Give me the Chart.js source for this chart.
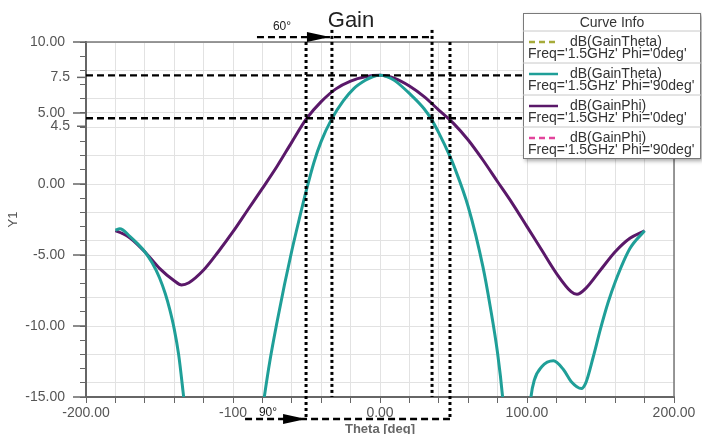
<!DOCTYPE html>
<html>
<head>
<meta charset="utf-8">
<script src="https://cdn.jsdelivr.net/npm/chart.js@4/dist/chart.umd.min.js"></script>
<style>
  html, body { margin: 0; padding: 0; background: #fff; }
</style>
</head>
<body>
<canvas id="gainChart" width="702" height="434"></canvas>
<script>
// dB(GainTheta), Phi = 90deg  (theta in deg, gain in dB)
const thetaTeal = [-180, -177, -170, -165, -160, -155, -150, -146, -143, -140, -137, -134, -130, -120, -106, -88,
  -78.7, -74.8, -70, -65, -60, -55, -50, -45, -40, -33, -25, -18, -10, -5, 0, 5, 10, 20, 30, 35, 40, 47.6, 50, 60,
  70, 75, 80, 83.4, 88, 93, 98, 102.7, 105, 110, 118, 125, 130, 137, 140, 145, 150, 155, 160, 170, 180];
const gainTeal = [-3.25, -3.15, -3.7, -4.2, -4.77, -5.55, -6.6, -7.75, -8.85, -10.2, -12.0, -14.6, -18.4, -25, -30, -22,
  -15, -12.4, -9.7, -7.1, -4.7, -2.5, -0.4, 1.5, 3.0, 4.55, 5.85, 6.7, 7.3, 7.55, 7.65, 7.55, 7.28, 6.38, 5.3, 4.55, 3.6, 1.95, 1.35, -1.6,
  -5.82, -8.64, -11.92, -15, -21, -24, -21, -15, -13.8, -12.87, -12.45, -13.1, -13.9, -14.4, -14.0, -12.2, -10.2, -8.4, -6.9, -4.55, -3.29];

// dB(GainPhi), Phi = 0deg
const thetaPurple = [-180, -175, -170, -160, -150, -140, -135, -130, -120, -110, -100, -90, -80, -70, -60, -50,
  -40, -30, -20, -10, 0, 10, 20, 30, 40, 50, 60, 70, 80, 90, 100, 110, 120, 130, 134, 140, 150, 160, 170, 180];
const gainPurple = [-3.29, -3.5, -3.8, -4.77, -5.94, -6.81, -7.11, -6.95, -6.06, -4.77, -3.36, -1.83, -0.31, 1.25, 2.95, 4.6,
  5.8, 6.7, 7.25, 7.55, 7.65, 7.44, 6.9, 6.15, 5.21, 4.27, 3.1, 1.69, 0.16, -1.36, -3.0, -4.65, -6.29, -7.58, -7.77, -7.35, -6.06, -4.77, -3.82, -3.29];

const curveNames = ['dB(GainTheta)', 'dB(GainTheta)', 'dB(GainPhi)', 'dB(GainPhi)'];
const curveFreqs = ["Freq='1.5GHz' Phi='0deg'", "Freq='1.5GHz' Phi='90deg'", "Freq='1.5GHz' Phi='0deg'", "Freq='1.5GHz' Phi='90deg'"];

const xTickValues = [-200, -100, 0, 100, 200];
const xTickLabels = ['-200.00', '-100', '0.00', '100.00', '200.00'];
const yTickValues = [-15, -10, -5, 0, 5, 10];
const yTickLabels = ['-15.00', '-10.00', '-5.00', '0.00', '5.00', '10.00'];

// hand-drawn marks on the figure (dB levels and beam edges in deg)
const levelValues = [7.65, 4.63];
const levelLabels = ['7.5', '4.5'];
const beam60 = [-32.7, 35.4];
const beam90 = [-50.3, 47.6];

const toPoints = (xs, ys) => xs.map((t, i) => ({ x: t, y: ys[i] }));

function dashLine(ctx, x1, y1, x2, y2, dash, w) {
  ctx.setLineDash(dash);
  ctx.lineWidth = w;
  ctx.beginPath();
  ctx.moveTo(x1, y1);
  ctx.lineTo(x2, y2);
  ctx.stroke();
}

function arrowHead(ctx, tipX, y) {
  ctx.setLineDash([]);
  ctx.beginPath();
  ctx.moveTo(tipX, y);
  ctx.lineTo(tipX - 23, y - 5);
  ctx.lineTo(tipX - 23, y + 5);
  ctx.closePath();
  ctx.fill();
}

const markup = {
  id: 'markup',
  afterDraw(chart) {
    const { ctx, chartArea: a } = chart;
    const px = v => chart.scales.x.getPixelForValue(v);
    const py = v => chart.scales.y.getPixelForValue(v);
    ctx.save();

    // top / right frame
    ctx.strokeStyle = '#777';
    dashLine(ctx, a.left, a.top, a.right, a.top, [], 1.5);
    dashLine(ctx, a.right, a.top, a.right, a.bottom, [], 1.5);

    // long ticks at labelled values
    ctx.strokeStyle = '#666';
    yTickValues.forEach(v => dashLine(ctx, a.left - 13, py(v), a.left, py(v), [], 1.5));

    // level lines and their labels
    ctx.fillStyle = '#555';
    ctx.font = '14px "Liberation Sans", Arial, sans-serif';
    ctx.textAlign = 'right';
    ctx.textBaseline = 'middle';
    levelValues.forEach((v, i) => {
      ctx.strokeStyle = '#000';
      dashLine(ctx, a.left, py(v), a.right, py(v), [7, 4], 2.3);
      const ly = py(v) + (i === 0 ? 2 : 8);
      ctx.fillText(levelLabels[i], a.left - 16, ly);
      ctx.strokeStyle = '#666';
      dashLine(ctx, a.left - 9, ly, a.left, ly, [], 1.5);
    });

    // beam edges
    ctx.strokeStyle = '#000';
    ctx.fillStyle = '#000';
    const topY = py(10.35), botY = py(-16.55);
    beam60.forEach(t => dashLine(ctx, px(t), py(10.85), px(t), a.bottom, [3, 3], 3));
    beam90.forEach(t => dashLine(ctx, px(t), a.top, px(t), botY, [3, 3], 3));
    dashLine(ctx, px(-83.7), topY, px(beam60[1]), topY, [7, 4], 2.3);
    arrowHead(ctx, px(beam60[0]) - 2, topY);
    dashLine(ctx, px(-91.8), botY, px(beam90[1]), botY, [7, 4], 2.3);
    arrowHead(ctx, px(beam90[0]), botY);

    ctx.font = '12px "Liberation Sans", Arial, sans-serif';
    ctx.textAlign = 'center';
    ctx.fillStyle = '#222';
    ctx.fillText('60°', px(-66.7), py(11.06));
    ctx.fillText('90°', px(-76.2), py(-16.13));

    // title
    ctx.font = '22px "Liberation Sans", Arial, sans-serif';
    ctx.fillStyle = '#222';
    ctx.fillText('Gain', 351, 21);

    // curve info box
    const bx = 523, by = 13, bw = 178, bh = 146;
    ctx.setLineDash([]);
    ctx.shadowColor = 'rgba(0,0,0,0.35)';
    ctx.shadowBlur = 4;
    ctx.shadowOffsetX = 2;
    ctx.shadowOffsetY = 2;
    ctx.fillStyle = '#fff';
    ctx.fillRect(bx, by, bw, bh);
    ctx.shadowColor = 'transparent';
    ctx.strokeStyle = '#7a7a7a';
    ctx.lineWidth = 1;
    ctx.strokeRect(bx + 0.5, by + 0.5, bw - 1, bh - 1);

    ctx.fillStyle = '#333';
    ctx.font = '14px "Liberation Sans", Arial, sans-serif';
    ctx.fillText('Curve Info', bx + bw / 2, by + 10);
    chart.data.datasets.forEach((ds, i) => {
      const top = by + 18 + 32 * i;
      ctx.strokeStyle = '#c8c8c8';
      dashLine(ctx, bx, top, bx + bw, top, [], 1);
      ctx.strokeStyle = ds.borderColor;
      dashLine(ctx, bx + 6, top + 11, bx + 35, top + 11, ds.borderDash || [], 2.5);
      ctx.fillStyle = '#333';
      ctx.textAlign = 'left';
      ctx.fillText(curveNames[i], bx + 47, top + 11);
      ctx.fillText(curveFreqs[i], bx + 5, top + 23);
    });
    ctx.restore();
  }
};

const gridColor = c => {
  if (!c.tick) return 'rgba(0,0,0,0)';
  const v = c.tick.value;
  return (v % 2 === 0 || v % 5 === 0) ? '#e2e2e2' : 'rgba(0,0,0,0)';
};

new Chart(document.getElementById('gainChart'), {
  type: 'line',
  data: {
    datasets: [
      { label: curveNames[0], data: [], borderColor: '#a6ab3a', borderDash: [6, 4], borderWidth: 2.5, pointRadius: 0 },
      { label: curveNames[1], data: toPoints(thetaTeal, gainTeal), borderColor: '#1f9f98', borderWidth: 3,
        pointRadius: 0, cubicInterpolationMode: 'monotone' },
      { label: curveNames[2], data: toPoints(thetaPurple, gainPurple), borderColor: '#5a1869', borderWidth: 3,
        pointRadius: 0, cubicInterpolationMode: 'monotone' },
      { label: curveNames[3], data: [], borderColor: '#e2449c', borderDash: [6, 4], borderWidth: 2.5, pointRadius: 0 }
    ]
  },
  options: {
    responsive: false,
    animation: false,
    layout: { padding: { left: 0, top: 42, right: 28, bottom: 0 } },
    plugins: { legend: { display: false }, title: { display: false }, tooltip: { enabled: false } },
    scales: {
      x: {
        type: 'linear', min: -200, max: 200,
        afterFit: s => { s.height = 37; },
        border: { color: '#666', width: 2 },
        grid: { color: '#e2e2e2', tickColor: '#666', tickLength: 6, lineWidth: 1 },
        ticks: {
          stepSize: 20, autoSkip: false, maxRotation: 0, padding: 2,
          color: '#555', font: { size: 14, family: '"Liberation Sans", Arial, sans-serif' },
          callback: v => { const i = xTickValues.indexOf(v); return i < 0 ? '' : xTickLabels[i]; }
        },
        title: { display: true, text: 'Theta [deg]', color: '#666', padding: { top: 0, bottom: -3 },
          font: { size: 13, weight: 'bold', family: '"Liberation Sans", Arial, sans-serif' } }
      },
      y: {
        min: -15, max: 10,
        afterFit: s => { s.width = 86; },
        border: { color: '#666', width: 2 },
        grid: { color: gridColor, tickColor: '#666', tickLength: 6, lineWidth: 1 },
        ticks: {
          stepSize: 1, autoSkip: false, padding: 15,
          color: '#555', font: { size: 14, family: '"Liberation Sans", Arial, sans-serif' },
          callback: v => { const i = yTickValues.indexOf(v); return i < 0 ? '' : yTickLabels[i]; }
        },
        title: { display: true, text: 'Y1', color: '#555', padding: { top: 6, bottom: 0 },
          font: { size: 13, family: '"Liberation Sans", Arial, sans-serif' } }
      }
    }
  },
  plugins: [markup]
});
</script>
</body>
</html>
